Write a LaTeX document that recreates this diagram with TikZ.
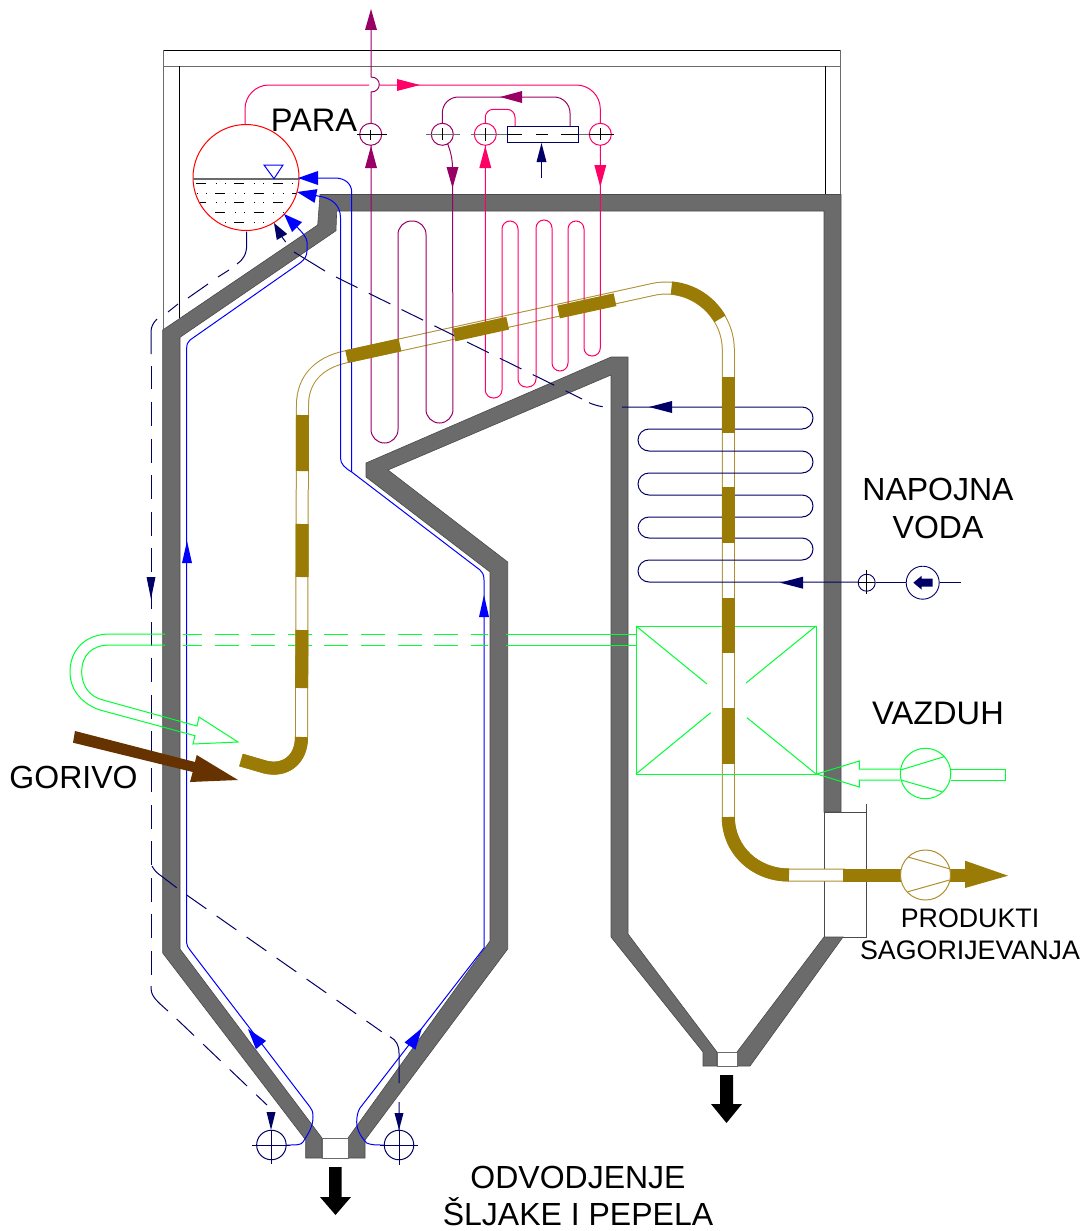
\documentclass[tikz,border=0pt]{standalone}
\usepackage{fontspec}
\setmainfont{Liberation Sans}
\usetikzlibrary{calc}
\definecolor{wallc}{HTML}{6B6B6B}
\definecolor{wallk}{HTML}{4A4A4A}
\definecolor{pinkc}{HTML}{FF0066}
\definecolor{purpc}{HTML}{990066}
\definecolor{bluec}{HTML}{0000FF}
\definecolor{navyc}{HTML}{000066}
\definecolor{greenc}{HTML}{00FF33}
\definecolor{gasc}{HTML}{9A7B06}
\definecolor{gask}{HTML}{AD8F30}
\definecolor{fuelc}{HTML}{663300}
\tikzset{
  wall/.style={fill=wallc,draw=wallk,line width=.6pt,line join=miter},
  casing/.style={draw=black,line width=.8pt},
  casingg/.style={draw=wallc,line width=.9pt},
  pinkl/.style={draw=pinkc,line width=1pt},
  purpl/.style={draw=purpc,line width=1pt},
  bluel/.style={draw=bluec,line width=1pt},
  navyl/.style={draw=navyc,line width=1pt},
  navyd/.style={draw=navyc,line width=1pt,dash pattern=on 24pt off 12.6pt},
  greenl/.style={draw=greenc,line width=1pt},
  greend/.style={draw=greenc,line width=1pt,dash pattern=on 24pt off 12.6pt,dash phase=5pt},
  gasl/.style={draw=gasc,line width=13pt,line cap=butt},
  gaso/.style={draw=gask,line width=13pt,line cap=butt},
  gasi/.style={draw=white,line width=11pt,line cap=butt},
  tick/.style={draw=black,line width=.8pt},
  tickg/.style={draw=wallc,line width=1.4pt},
  label/.style={font=\fontsize{32}{32}\selectfont,anchor=base,inner sep=0pt},
  blabel/.style={font=\fontsize{32.6}{32.6}\selectfont,anchor=base,inner sep=0pt},
  slabel/.style={font=\fontsize{26.8}{26.8}\selectfont,anchor=base,inner sep=0pt},
  water/.style={line width=1pt,draw=black,dash pattern=on 10pt off 9.5pt on 1pt off 8.6pt on 1pt off 8.2pt},
}
% #1 colour, #2 tip, #3 base centre, #4 half width
\newcommand{\tipa}[4]{\fill[#1] (#2) -- ($(#3)!#4pt!90:(#2)$) -- ($(#3)!#4pt!-90:(#2)$) -- cycle;}
\begin{document}
\begin{tikzpicture}[x=1pt,y=-1pt]
\useasboundingbox (0,0) rectangle (1081,1231);
% casing
\draw[casing] (163,50) -- (840,50) -- (840,66);
\draw[casingg] (163,66) -- (840,66);
\draw[casingg] (163,50) -- (163,330);
\draw[casing] (179.5,66) -- (179.5,318);
\draw[casing] (825,66) -- (825,195);
\draw[casingg] (840,50) -- (840,195);
\draw[draw=wallk,line width=.8pt] (824,812) -- (866,812);
\draw[draw=wallk,line width=.8pt] (866,804) -- (866,937) -- (824,937) -- (824,812);
% walls
\path[wall] (320,194.5) -- (841,194.5) -- (841,812) -- (824,812) -- (824,211) -- (336.7,211) -- (336,230.7) -- (180,337.3) -- (180,949) -- (322,1138) -- (322,1158) -- (305.7,1158) -- (305.7,1140) -- (162.7,953) -- (162.7,330) -- (317.7,225) -- cycle;
\path[wall] (366,463) -- (611,357) -- (628,357) -- (628,934) -- (717,1052) -- (717,1066) -- (703,1066) -- (703,1052) -- (611,937) -- (611,375) -- (388,470) -- (507.7,562) -- (507.7,949) -- (365,1140) -- (365,1158) -- (348,1158) -- (348,1138) -- (490,941) -- (490,572) -- (366,477) -- cycle;
\path[wall] (824,937) -- (843,937) -- (750,1066) -- (737,1066) -- (737,1052) -- cycle;
\draw[draw=wallc,line width=.8pt,fill=white] (322,1138) rectangle (348,1158);
\draw[draw=wallc,line width=.8pt,fill=white] (717,1052) rectangle (737,1066);
% gas duct hollow tube
\def\gaspath{(241,760) -- (265,767) .. controls (285,772) and (301.5,760) .. (301.5,737) -- (302.5,405) .. controls (302.5,380) and (318,363) .. (345,357) -- (652.7,289.5) .. controls (690,281) and (728.3,310) .. (728.3,350) -- (728.3,817) .. controls (728.3,850) and (755,875) .. (789,875) -- (845,875)}
\draw[gaso] \gaspath;
\draw[gasi] \gaspath;
% feed water coil
\draw[navyl,rounded corners=11pt] (622,407) -- (813,407) -- (813,429) -- (638,429) -- (638,451) -- (813,451) -- (813,473) -- (638,473) -- (638,495) -- (813,495) -- (813,517) -- (638,517) -- (638,538) -- (813,538) -- (813,560) -- (638,560) -- (638,582) -- (858,582);
\draw[navyl] (875.5,582.7) -- (906,582.7);
\draw[navyl] (939.5,582.7) -- (961,582.7);
\node[circle,draw=navyc,line width=.9pt,minimum size=17pt,inner sep=0pt] (vf) at (866.7,582.7) {};
\draw[tick] (866.7,570) -- (866.7,594) (858,582.7) -- (875,582.7);
\node[circle,draw=navyc,line width=.9pt,minimum size=33pt,inner sep=0pt] (fp) at (922.7,582.7) {};
\fill[navyc] (913.3,582.7) -- (921.7,575.7) -- (921.7,578.7) -- (932.7,578.7) -- (932.7,586.7) -- (921.7,586.7) -- (921.7,589.7) -- cycle;
\tipa{navyc}{649,407}{672,407}{6}
\tipa{navyc}{780,582.7}{803,582.7}{6}
% superheaters
\draw[purpl] (371,30) -- (371,77) .. controls (382,77) and (382,92) .. (371,92) -- (371,123);
\draw[purpl,rounded corners=13.5pt] (371,145) -- (371,443) -- (398,443) -- (398,221) -- (426,221) -- (426,423) -- (453,423) -- (452.5,168);
\draw[purpl] (452.5,168) .. controls (452.5,158) and (450,150) .. (447.7,144);
\draw[purpl,rounded corners=16pt] (442.3,123) -- (442.3,97) -- (570,97) -- (570,126);
\draw[pinkl,rounded corners=8pt] (485.3,123) -- (485.3,109.3) -- (515,109.3) -- (515,126);
\draw[pinkl,rounded corners=8pt] (485.3,145) -- (485.3,398) -- (502,398) -- (502,221) -- (518,221) -- (518,387) -- (536,387) -- (536,220) -- (552,220) -- (552,371) -- (568,371) -- (568,221) -- (584,221) -- (584,356) -- (600.3,356) -- (600.3,145);
\draw[pinkl,rounded corners=24pt] (245,124) -- (245,85) -- (369,85);
\draw[pinkl,rounded corners=24pt] (380,85) -- (600.3,85) -- (600.3,123);
% drum
\begin{scope}
\clip (246,177.5) circle (53pt);
\foreach \yy/\xx in {183/196,202/196,222/196}{\draw[water] (\xx,\yy) -- (300,\yy);}
\foreach \yy/\xx in {193/177,212/177}{\draw[water] (\xx,\yy) -- (300,\yy);}
\end{scope}
\node[circle,draw=red,line width=1pt,minimum size=106pt,inner sep=0pt] (drum) at (246,177.5) {};
\draw[draw=wallc,line width=1.6pt] (drum.west |- 0,178.7) -- (drum.east |- 0,178.7);
\draw[draw=bluec,line width=1pt,line join=miter] (264,165) -- (283,165) -- (274,178.7) -- cycle;
% valves
\node[circle,draw=purpc,line width=1pt,minimum size=22pt,inner sep=0pt] (v1) at (370.7,134.3) {};
\node[circle,draw=purpc,line width=1pt,minimum size=22pt,inner sep=0pt] (v2) at (442.3,134.3) {};
\node[circle,draw=pinkc,line width=1pt,minimum size=22pt,inner sep=0pt] (v3) at (485.3,134.3) {};
\node[circle,draw=pinkc,line width=1pt,minimum size=22pt,inner sep=0pt] (v4) at (600.3,134.3) {};
\draw[tick] (357,134.3) -- (387,134.3) (370.7,130) -- (370.7,140);
\draw[tickg] (426,134.3) -- (460,134.3);
\draw[tick] (442.3,128) -- (442.3,140);
\draw[tickg,line width=1pt] (470.7,134.3) -- (507.3,134.3);
\draw[tick] (485.3,128) -- (485.3,141);
\draw[tick] (507.3,134.3) -- (522,134.3) (536,134.3) -- (548,134.3) (561,134.3) -- (578,134.3);
\draw[tickg,line width=1pt] (578,134.3) -- (589,134.3);
\draw[tick] (589,134.3) -- (614,134.3) (600.3,128) -- (600.3,140);
\node[rectangle,draw=navyc,line width=1pt,inner sep=0pt,minimum width=71pt,minimum height=16.3pt] (sh) at (542.8,134.2) {};
\draw[navyl] (541.5,178) -- (541.5,160);
\tipa{navyc}{541.5,143}{541.5,162}{5}
\tipa{purpc}{371,9}{371,30}{6}
\tipa{purpc}{371,146}{371,168}{6}
\tipa{purpc}{500,97}{522,97}{6}
\tipa{purpc}{452.5,188}{452.5,167}{6}
\tipa{pinkc}{420,85}{397,85}{6}
\tipa{pinkc}{485.3,146}{485.3,168}{6}
\tipa{pinkc}{600.3,187}{600.3,165}{6}
% blue risers
\draw[bluel] (286.7,1145) .. controls (297,1145) and (301,1145) .. (303,1142) .. controls (308,1134) and (313,1127) .. (313,1117) .. controls (313,1112) and (312,1109) .. (310,1107) -- (190,950) .. controls (188,947) and (186.7,946) .. (186.7,943) -- (186.7,348) .. controls (186.7,344) and (188,342) .. (190,340) -- (300,263) .. controls (305,259) and (307,256) .. (307,250) -- (307,242) .. controls (307,238) and (303,233) .. (296,226);
\draw[bluel] (384,1145) .. controls (376,1145) and (371,1145) .. (366.7,1143) .. controls (361,1137) and (356.7,1130) .. (356.7,1122) .. controls (356.7,1116) and (358,1111) .. (360,1108) -- (484,948) -- (484,580) .. controls (484,574) and (482,572) .. (480,570) -- (351.7,472);
\draw[bluel] (351.7,472) -- (351.7,192) .. controls (351.7,184) and (345,178) .. (335,178) -- (315,178);
\draw[bluel] (351.7,472) .. controls (345,468) and (340.5,464) .. (340.5,458) -- (340.5,218) .. controls (340.5,205) and (332,198) .. (318,196) -- (310,194);
\tipa{bluec}{298,178}{318,178}{7}
\tipa{bluec}{297,192}{316,196}{7}
\tipa{bluec}{284,214}{297,227}{7}
\tipa{bluec}{187,541}{187,563}{5}
\tipa{bluec}{484,595}{484,617}{5}
\tipa{bluec}{248,1029}{261,1045}{6.5}
\tipa{bluec}{422,1028}{410,1046}{6.5}
% blowdown dashed
\draw[navyl] (246.7,231.7) -- (246.7,245) .. controls (246.7,254) and (243,260) .. (237,264);
\draw[navyl] (229,270) -- (218,277) (208,284) -- (188,298) (178,304) -- (168,312);
\draw[navyl] (157,319) .. controls (153,323) and (151,327) .. (151,332) -- (151,354);
\draw[navyd] (151,975) -- (151,366);
\tipa{navyc}{151,599}{151,577}{4.5}
\draw[navyl] (151,986) .. controls (151,995) and (153,998) .. (168,1011);
\draw[navyd] (176.7,1019) -- (267,1105);
\draw[navyl] (152,866) .. controls (154,870) and (157,873) .. (160,875) -- (176.7,887.7);
\draw[navyd] (186.7,895) -- (381.7,1031.7);
\draw[navyl] (390,1036.7) .. controls (396,1040) and (399,1045) .. (399,1053) -- (399,1083) (399,1102) -- (399,1130);
\tipa{navyc}{399,1130}{399,1113}{4.5}
\tipa{navyc}{271,1130}{271,1112}{4.5}
\node[circle,draw=navyc,line width=1pt,minimum size=29.5pt,inner sep=0pt] (bl) at (271.4,1145) {};
\node[circle,draw=navyc,line width=1pt,minimum size=29.5pt,inner sep=0pt] (br) at (399,1145) {};
\draw[tick,draw=navyc] (252,1145) -- (290,1145) (271.4,1130) -- (271.4,1164);
\draw[tick,draw=navyc] (380,1145) -- (418,1145) (399,1130) -- (399,1165);
% drum recirculation dashed
\draw[navyl] (285.7,242) -- (282,237);
\tipa{navyc}{274,223}{282,237}{6}
\draw[navyl] (294,252) -- (325,271);
\draw[navyd] (336,277) -- (582,399);
\draw[navyl] (589,402.7) .. controls (593,404.5) and (598,406) .. (602.7,406.7);
% air
\draw[greenl] (165,634) -- (110,634) .. controls (85,634) and (70,650) .. (70,672) .. controls (70,690) and (82,704) .. (100,710) -- (195,735.7) -- (193,744) -- (238,742) -- (199,717) -- (197,726) -- (103,700) .. controls (90,697) and (81.7,686) .. (81.7,672) .. controls (81.7,655) and (92,645) .. (110,645) -- (165,645);
\draw[greend] (183,634) -- (488,634);
\draw[greend] (183,645.3) -- (488,645.3);
\draw[greenl] (506,634) -- (636,634) (506,645.3) -- (636,645.3);
\draw[greenl] (636,626) rectangle (816,774);
\draw[greenl] (636,626) -- (707,684) (816,626) -- (746,683) (636,774) -- (710.7,712.7) (816,774) -- (747,717.7);
\draw[greenl,line join=miter] (900,769) -- (859.3,769) -- (859.3,761) -- (816.7,774) -- (859.3,787) -- (859.3,780) -- (900,780);
\node[circle,draw=greenc,line width=1pt,minimum size=50.5pt,inner sep=0pt] (af) at (925.5,773.5) {};
\draw[greenl] (900.5,770) -- (944,756.7) (901,780) -- (941.7,791.7);
\draw[greenl] (951,769) -- (1005,769) -- (1005,780) -- (951,780);
% fuel
\fill[fuelc] (75,731) -- (195,762) -- (196.7,755) -- (238,780) -- (190,782) -- (192.7,772) -- (73,742.7) -- cycle;
% gas solid pieces
\draw[gasl] (241,760) -- (265,767) .. controls (285,772) and (301.5,760) .. (301.5,737);
\draw[gasl] (301.7,688) -- (301.9,630);
\draw[gasl] (302,577) -- (302.2,524);
\draw[gasl] (302.4,471) -- (302.5,415);
\draw[gasl] (346.6,356.6) -- (400,344.9);
\draw[gasl] (454,335) -- (507.7,323.2);
\draw[gasl] (558.5,312) -- (615,299.7);
\draw[gasl] plot[domain=85:30,samples=24] ({666+62.3*cos(\x)},{350-62.3*sin(\x)});
\draw[gasl] (728.3,377) -- (728.3,433);
\draw[gasl] (728.3,487) -- (728.3,543);
\draw[gasl] (728.3,598) -- (728.3,653);
\draw[gasl] (728.3,708) -- (728.3,764);
\draw[gasl] (728.3,817) .. controls (728.3,850) and (755,875) .. (789,875);
\draw[gasl] (843,875) -- (901,875);
\draw[gasl] (950,875) -- (966,875);
\fill[gasc] (1008,875.7) -- (965,860.7) -- (965,888) -- cycle;
\node[circle,draw=gask,fill=white,line width=1pt,minimum size=50pt,inner sep=0pt] (pf) at (925.5,875) {};
\draw[draw=gask,line width=1pt] (908,857) -- (950,869) (908,891.7) -- (949.5,880);
% ash arrows
\fill[black] (329,1167) -- (341.7,1167) -- (341.7,1197) -- (351,1197) -- (335.5,1215) -- (320,1197) -- (329,1197) -- cycle;
\fill[black] (720,1075) -- (733,1075) -- (733,1104) -- (742,1104) -- (726.5,1123) -- (711,1104) -- (720,1104) -- cycle;
% labels
\node[blabel] (tpara) at (314,131.5) {PARA};
\node[label] (tnap) at (938,500) {NAPOJNA};
\node[label] (tvod) at (938,538) {VODA};
\node[blabel] (tvaz) at (938,724) {VAZDUH};
\node[label] (tgor) at (73.5,788) {GORIVO};
\node[slabel] (tpro) at (970,927) {PRODUKTI};
\node[slabel] (tsag) at (970,959) {SAGORIJEVANJA};
\node[label] (todv) at (578,1188) {ODVODJENJE};
\node[label] (tslj) at (578,1225) {ŠLJAKE I PEPELA};
\end{tikzpicture}
\end{document}
